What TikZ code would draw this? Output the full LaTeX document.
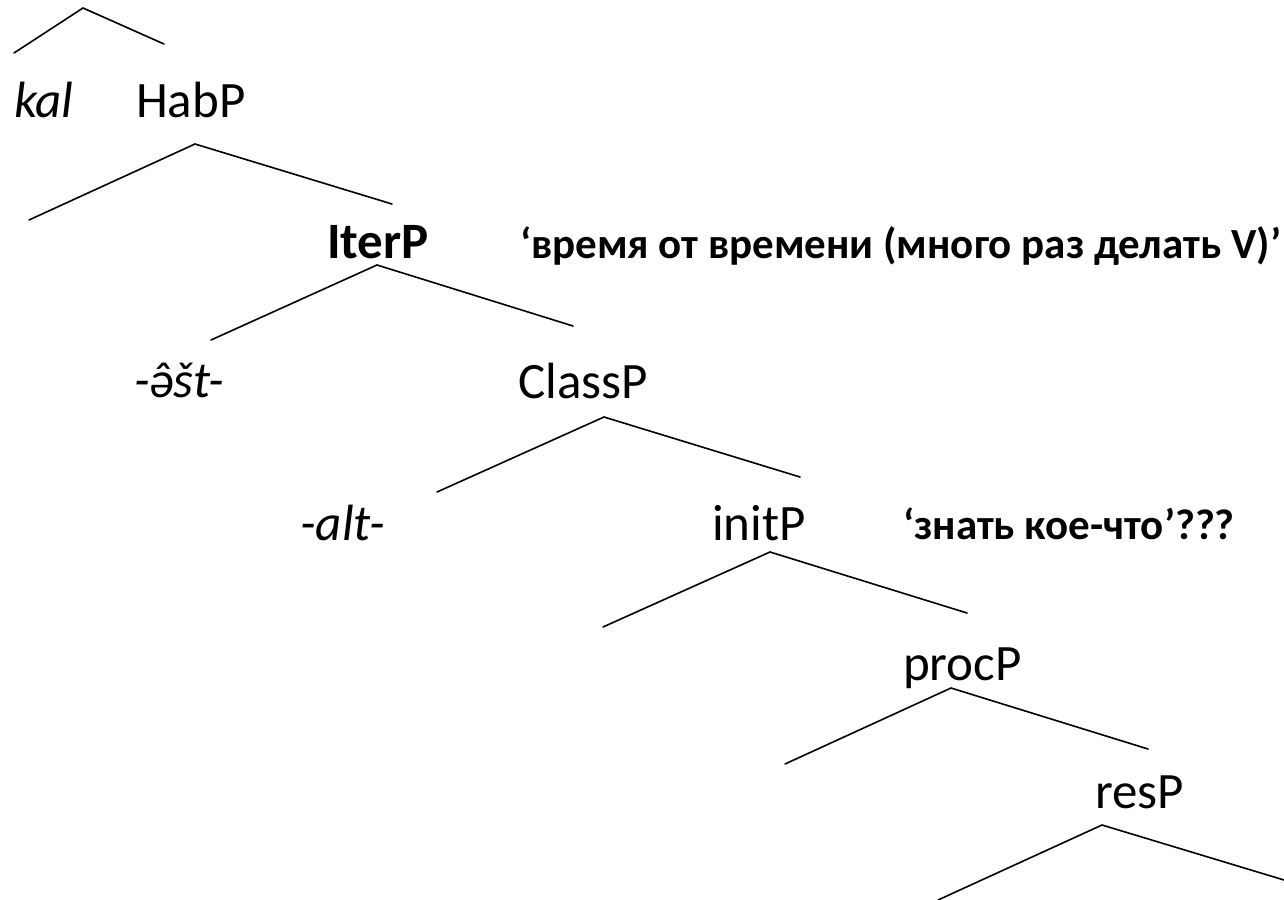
\documentclass[tikz,border=0pt]{standalone}
\usepackage{fontspec}
\setmainfont{Carlito}
\usetikzlibrary{positioning}

\begin{document}
\begin{tikzpicture}[x=1pt,y=-1pt,
	lbl/.style={anchor=base west,inner sep=0pt,font=\fontsize{51}{60}\selectfont},
	gloss/.style={anchor=base west,inner sep=0pt,font=\fontsize{43}{50}\selectfont\bfseries},
	branch/.style={line width=1.6pt,line cap=round}]
		\useasboundingbox (0,0) rectangle (1284,899);
		\clip (0,0) rectangle (1284,899);
		
		% labels
		\node[lbl] (kal) at (14,117) {\itshape kal};
		\node[lbl] (habp) at (136,117) {HabP};
		\node[lbl,font=\fontsize{51}{60}\selectfont\bfseries] (iterp) at (327,258) {IterP};
		\node[gloss] (iterg) at (520,258) {‘время от времени (много раз делать V)’};
		\node[lbl] (ast) at (134,397) {\itshape -\accent"02C6 əšt-};
		\node[lbl] (classp) at (518,398) {ClassP};
		\node[lbl] (alt) at (300,540) {\itshape -alt-};
		\node[lbl] (initp) at (712,540) {initP};
		\node[gloss] (initg) at (903,539) {‘знать кое-что’???};
		\node[lbl] (procp) at (903,680) {procP};
		\node[lbl] (resp) at (1095,808) {resP};
		
		% branches
		\coordinate (top-l) at (14,53);    \coordinate (top-a) at (83,8);      \coordinate (top-r) at (164,44);
		\coordinate (habp-l) at (29,220);  \coordinate (habp-a) at (195,144);  \coordinate (habp-r) at (392,204);
		\coordinate (iterp-l) at (211,340); \coordinate (iterp-a) at (377,265); \coordinate (iterp-r) at (573,326);
		\coordinate (classp-l) at (437,492); \coordinate (classp-a) at (604,417); \coordinate (classp-r) at (800,477);
		\coordinate (initp-l) at (603,627); \coordinate (initp-a) at (770,552); \coordinate (initp-r) at (967,613);
		\coordinate (procp-l) at (785,764); \coordinate (procp-a) at (951,688); \coordinate (procp-r) at (1148,749);
		\coordinate (resp-l) at (938,900); \coordinate (resp-a) at (1102,825); \coordinate (resp-r) at (1284,880);
		
		\foreach \t in {top,habp,iterp,classp,initp,procp,resp}{
			\draw[branch] (\t-l) -- (\t-a) -- (\t-r);
		}
\end{tikzpicture}
\end{document}
